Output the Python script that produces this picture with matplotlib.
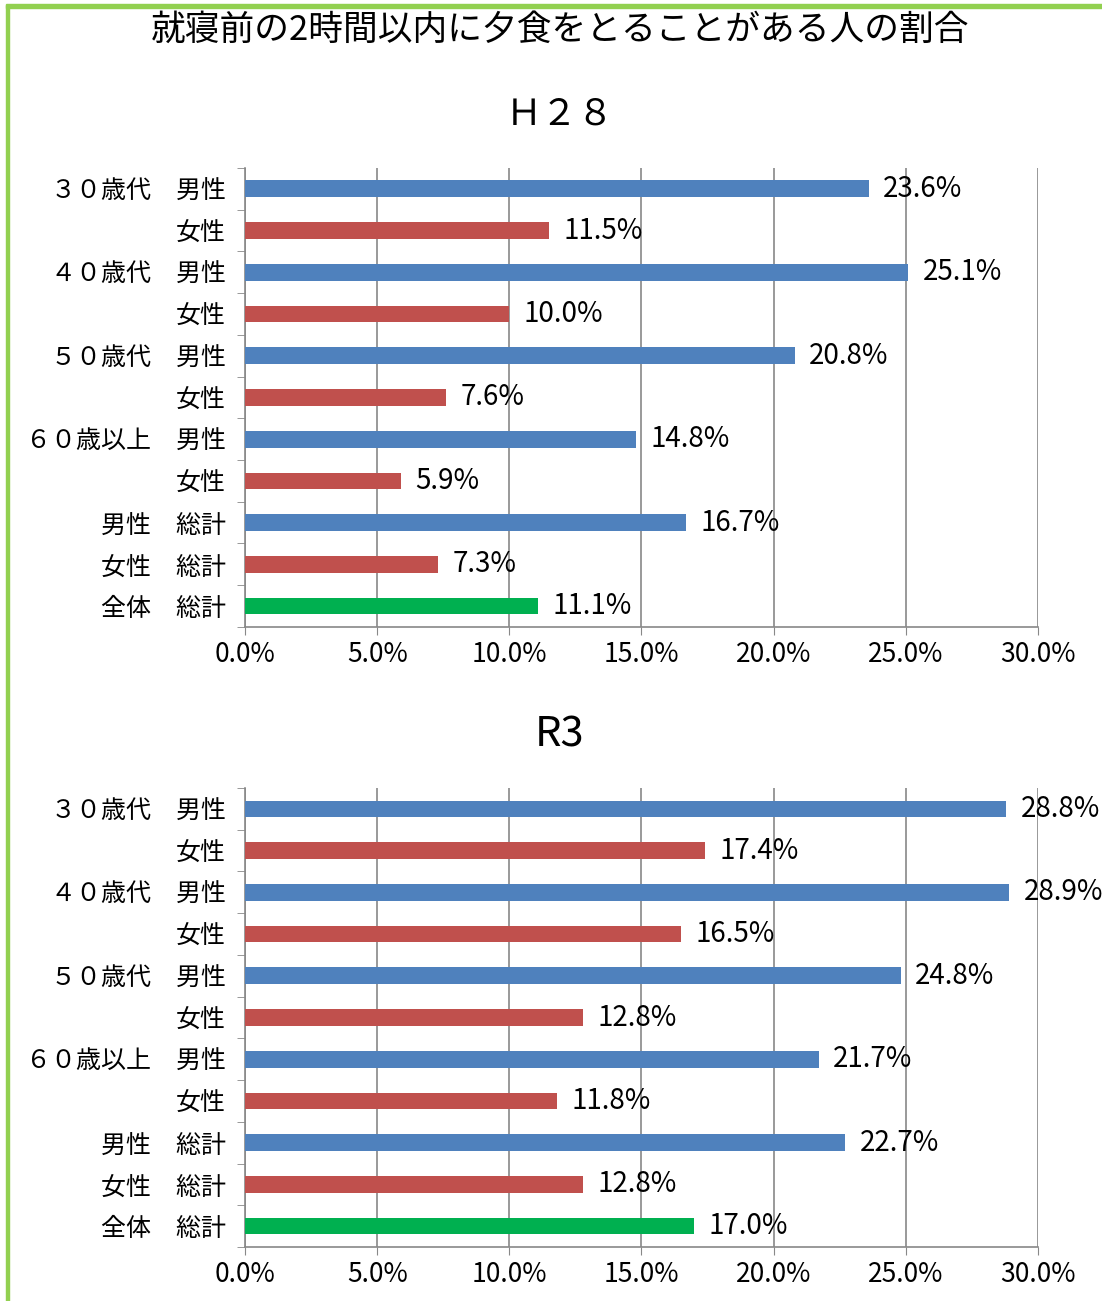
import matplotlib.pyplot as plt
from matplotlib.patches import Rectangle

plt.rcParams['font.family'] = ['Noto Sans CJK JP', 'DejaVu Sans']

labels = ["３０歳代　男性", "女性", "４０歳代　男性", "女性", "５０歳代　男性", "女性",
          "６０歳以上　男性", "女性", "男性　総計", "女性　総計", "全体　総計"]
h28 = [23.6, 11.5, 25.1, 10.0, 20.8, 7.6, 14.8, 5.9, 16.7, 7.3, 11.1]
r3 = [28.8, 17.4, 28.9, 16.5, 24.8, 12.8, 21.7, 11.8, 22.7, 12.8, 17.0]
colors = ["#4F81BD", "#C0504D"] * 4 + ["#4F81BD", "#C0504D", "#00B050"]
xticks = [0, 5, 10, 15, 20, 25, 30]

fig = plt.figure(figsize=(11.02, 13.01), dpi=100)

# green frame on left and top
fig.patches.append(Rectangle((0.005, 0.0), 0.0028, 0.996, transform=fig.transFigure,
                             color="#92D050", zorder=0))
fig.patches.append(Rectangle((0.005, 0.9935), 0.995, 0.0033, transform=fig.transFigure,
                             color="#92D050", zorder=0))

fig.text(0.508, 0.977, "就寝前の2時間以内に夕食をとることがある人の割合",
         ha="center", va="center", fontsize=25)


def draw(ax, vals, title, ty, tsize):
    y = list(range(len(vals)))
    ax.barh(y, vals, height=0.4, color=colors, zorder=3)
    ax.set_ylim(len(vals) - 0.5, -0.5)
    ax.set_xlim(0, 30)
    ax.set_xticks(xticks)
    ax.set_xticklabels([f"{t:.1f}%" for t in xticks], fontsize=19)
    ax.set_yticks(y)
    ax.set_yticklabels(labels, fontsize=18)
    ax.set_yticks([i - 0.5 for i in range(len(vals) + 1)], minor=True)
    ax.tick_params(axis="y", which="major", length=0, pad=14)
    ax.tick_params(axis="y", which="minor", length=6, color="#888888")
    ax.tick_params(axis="x", length=6, color="#888888", pad=4)
    ax.grid(axis="x", color="#888888", linewidth=1.2, zorder=0)
    for s in ["top", "right"]:
        ax.spines[s].set_visible(False)
    for s in ["left", "bottom"]:
        ax.spines[s].set_color("#888888")
        ax.spines[s].set_linewidth(1.2)
    for yi, v in zip(y, vals):
        ax.text(v + 0.55, yi, f"{v:.1f}%", va="center", ha="left", fontsize=20, zorder=4)
    fig.text(0.508, ty, title, ha="center", va="center", fontsize=tsize)


ax1 = fig.add_axes([0.2223, 0.5181, 0.7196, 0.3528])
draw(ax1, h28, "Ｈ２８", 0.912, 26)
ax2 = fig.add_axes([0.2223, 0.0415, 0.7196, 0.3528])
draw(ax2, r3, "R3", 0.435, 30)

fig.savefig("out.png", dpi=100)
